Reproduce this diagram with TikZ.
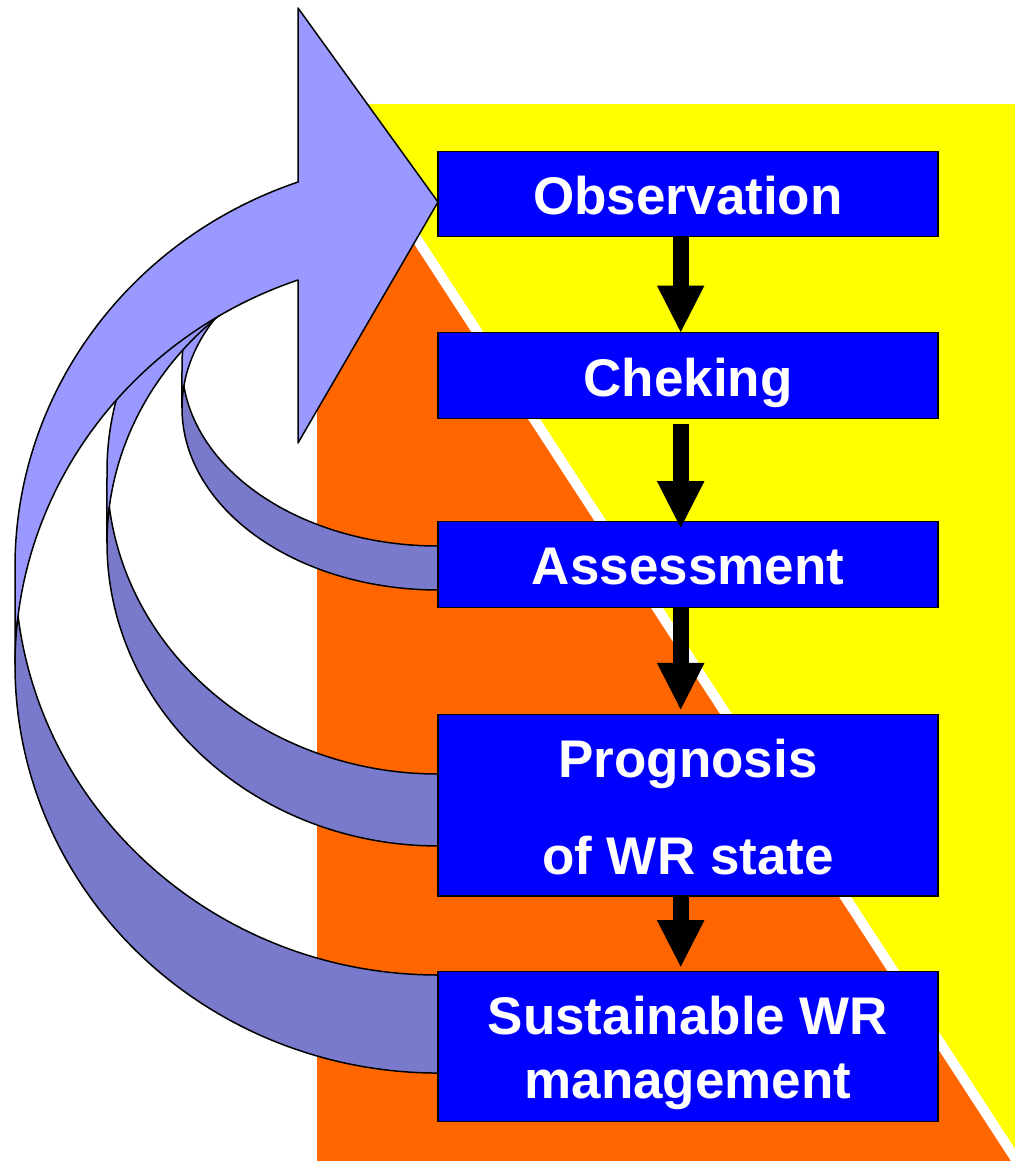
\documentclass[tikz,border=0pt]{standalone}
\usepackage{fontspec}
\setmainfont{Liberation Sans}
\usetikzlibrary{arrows.meta}

\definecolor{bandlight}{RGB}{153,153,255}
\definecolor{banddark}{RGB}{122,122,204}
\definecolor{bgorange}{RGB}{255,102,0}
\definecolor{bgyellow}{RGB}{255,255,0}

\begin{document}
\begin{tikzpicture}[x=1pt, y=1pt]
        \tikzstyle{every node}+=[inner sep=0pt]
        \tikzstyle{stage}=[draw=black, line width=1.2pt, fill=blue, text=white, font=\fontsize{53}{64}\selectfont\bfseries, minimum width=500pt, align=center, text height=41pt, text depth=0pt]
        \tikzstyle{band}=[draw=black, line width=1.5pt, line join=round]
        \tikzstyle{flow}=[line width=16pt, -{Triangle[length=46.5pt, width=47.5pt, line width=0pt]}]
        \useasboundingbox (0,0) rectangle (1015,-1161);

        % background
        \fill [bgyellow] (317,-104) rectangle (1015,-1161);
        \fill [bgorange] (317,-104) -- (329,-104) -- (1015,-1157.9) -- (1015,-1161) -- (317,-1161) -- cycle;
        \draw [white, line width=10pt] (329,-104) -- (1017,-1161);

        % inner loop
        \draw [band, fill=bandlight] (182,-364) arc[start angle=180, end angle=123.15, x radius=256pt, y radius=182pt]
              -- (298,-255.6) arc[start angle=123.15, end angle=180, x radius=256pt, y radius=182pt] -- cycle;
        \draw [band, fill=banddark] (438,-546) arc[start angle=270, end angle=186.94, x radius=256pt, y radius=182pt]
              arc[start angle=173.06, end angle=270, x radius=256pt, y radius=182pt] -- cycle;

        % middle loop
        \draw [band, fill=bandlight] (107,-471) arc[start angle=180, end angle=115.02, x radius=331pt, y radius=303pt]
              -- (298,-268.4) arc[start angle=115.02, end angle=180, x radius=331pt, y radius=303pt] -- cycle;
        \draw [band, fill=banddark] (438,-774) arc[start angle=270, end angle=186.82, x radius=331pt, y radius=303pt]
              arc[start angle=173.18, end angle=270, x radius=331pt, y radius=303pt] -- cycle;

        % outer loop with the head
        \draw [band, fill=bandlight] (15,-567) arc[start angle=180, end angle=109.33, x radius=423pt, y radius=408pt]
              -- (298,-8) -- (438,-202) -- (298,-443) -- (298,-280)
              arc[start angle=109.33, end angle=180, x radius=423pt, y radius=408pt] -- cycle;
        \draw [band, fill=banddark] (438,-975) arc[start angle=270, end angle=186.9, x radius=423pt, y radius=408pt]
              arc[start angle=173.1, end angle=270, x radius=423pt, y radius=408pt] -- cycle;

        % stages
        \node [stage, minimum height=85pt] (obs) at (688,-194) {Observation};
        \node [stage, minimum height=85.6pt] (chk) at (688,-375.5) {Cheking};
        \node [stage, minimum height=86pt] (ass) at (688,-564.3) {Assessment};
        \node [stage, minimum height=181.3pt, text height=137.8pt] (prog) at (688,-805.4) {Prognosis\\[33pt]of WR state};
        \node [stage, minimum height=150pt, text height=103.2pt] (sust) at (688,-1046.7) {Sustainable WR\\management};

        \draw [flow] ([xshift=-7.3pt]obs.south) -- ([xshift=-7.3pt]chk.north);
        \draw [flow, shorten <=5.4pt, shorten >=-7pt] ([xshift=-7.3pt]chk.south) -- ([xshift=-7.3pt]ass.north);
        \draw [flow, shorten >=4.7pt] ([xshift=-7.3pt]ass.south) -- ([xshift=-7.3pt]prog.north);
        \draw [flow, shorten >=4.4pt] ([xshift=-7.3pt]prog.south) -- ([xshift=-7.3pt]sust.north);
\end{tikzpicture}
\end{document}
